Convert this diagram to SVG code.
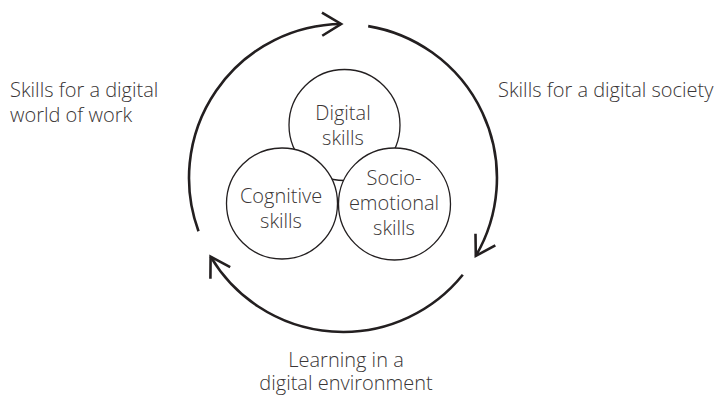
<svg xmlns="http://www.w3.org/2000/svg" width="720" height="396" viewBox="0 0 720 396">
<defs>
<style>
.cyc{fill:none;stroke:#231f20;stroke-width:2.6;stroke-linecap:butt}
.skill{fill:#ffffff;stroke:#231f20;stroke-width:1.3}
.t{font-family:"Open Sans","Noto Sans",sans-serif;font-size:20px;font-weight:300;fill:#3a3636}
.c{text-anchor:middle}
</style>
<marker id="arr" markerUnits="userSpaceOnUse" markerWidth="40" markerHeight="40" viewBox="-25 -20 40 40" refX="0" refY="0" orient="auto" overflow="visible">
<path d="M-19,-11.5 L0,0 L-19,11.5" fill="none" stroke="#231f20" stroke-width="2.6" stroke-linejoin="miter"/>
</marker>
</defs>
<rect width="720" height="396" fill="#ffffff"/>
<g id="connectors">
<path class="cyc" d="M198.5,231.2 A154,154 0 0 1 341.1,24" marker-end="url(#arr)"/>
<path class="cyc" d="M368.2,26.1 A154,154 0 0 1 475.8,255.9" marker-end="url(#arr)"/>
<path class="cyc" d="M462.8,274.7 A154,154 0 0 1 210.6,256.6" marker-end="url(#arr)"/>
</g>
<g id="digital">
<circle class="skill" cx="344.5" cy="125" r="55.5"/>
<text class="t c" x="343" y="120">Digital</text>
<text class="t c" x="343" y="145">skills</text>
</g>
<g id="cognitive">
<circle class="skill" cx="282" cy="203.5" r="55.5"/>
<text class="t c" x="281" y="203">Cognitive</text>
<text class="t c" x="281" y="228">skills</text>
</g>
<g id="socio">
<circle class="skill" cx="394.5" cy="204" r="56"/>
<text class="t c" x="394" y="185">Socio-</text>
<text class="t c" x="394" y="210">emotional</text>
<text class="t c" x="394" y="235">skills</text>
</g>
<g id="label-work">
<text class="t" x="10" y="97">Skills for a digital</text>
<text class="t" x="10" y="122">world of work</text>
</g>
<g id="label-society">
<text class="t" x="498" y="97" font-size="20.4">Skills for a digital society</text>
</g>
<g id="label-learning">
<text class="t c" x="346" y="367">Learning in a</text>
<text class="t c" x="346" y="390">digital environment</text>
</g>
</svg>
